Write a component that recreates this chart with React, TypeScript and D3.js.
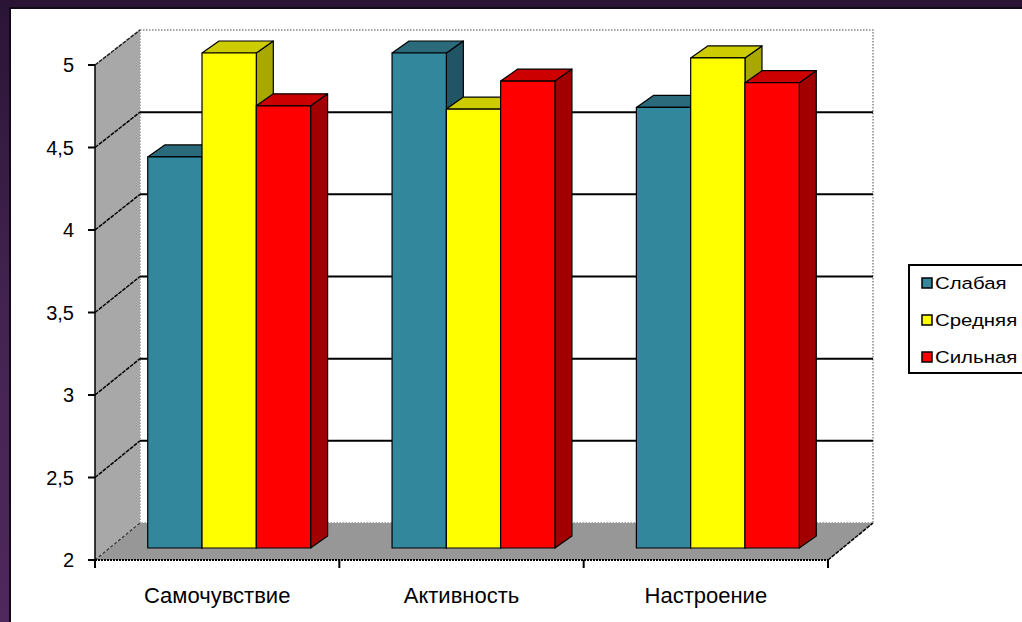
import React from "react";
import * as d3 from "d3";

const categories = ["Самочувствие", "Активность", "Настроение"];
const seriesNames = ["Слабая", "Средняя", "Сильная"];
const slabaya = [4.37, 5.0, 4.67];
const srednyaya = [5.0, 4.66, 4.97];
const silnaya = [4.68, 4.83, 4.82];
const yTicks = [2, 2.5, 3, 3.5, 4, 4.5, 5];

const seriesValues = [slabaya, srednyaya, silnaya];
const palette = [
  { front: "#33879d", top: "#2a6a7b", side: "#215565" },
  { front: "#ffff00", top: "#cccc00", side: "#a8a800" },
  { front: "#ff0000", top: "#cc0000", side: "#a20000" },
];

const W = 1022;
const H = 622;
const FONT = "'Liberation Sans', Arial, sans-serif";

// plot geometry: front plane and back wall of the 3D box
const frontLeft = 95;
const frontRight = 828;
const wallDx = 45;
const barShift = { dx: 12, dy: -12 };
const barDepth = { dx: 17, dy: -12 };

const yFront = d3.scaleLinear().domain([2, 5]).range([560, 65]);
const yBack = d3.scaleLinear().domain([2, 5]).range([523, 30]);

const xCat = d3.scaleBand<string>().domain(categories).range([frontLeft, frontRight]).paddingInner(0).paddingOuter(0);
const xSeries = d3.scaleBand<string>().domain(seriesNames).range([0, xCat.bandwidth()]).paddingInner(0).paddingOuter(0.75);

const pts = (p: [number, number][]) => p.map((q) => q.join(",")).join(" ");

export default function App() {
  const backL = frontLeft + wallDx;
  const backR = frontRight + wallDx;
  const bw = xSeries.bandwidth();

  const bars: JSX.Element[] = [];
  categories.forEach((c, ci) => {
    seriesNames.forEach((s, si) => {
      const v = seriesValues[si][ci];
      const x0 = (xCat(c) as number) + (xSeries(s) as number) + barShift.dx;
      const x1 = x0 + bw;
      const yb = yFront(2) + barShift.dy;
      const yt = yFront(v) + barShift.dy;
      const { dx, dy } = barDepth;
      const col = palette[si];
      bars.push(
        <g key={`${ci}-${si}`} stroke="#000" strokeWidth={1.2} strokeLinejoin="round">
          <polygon points={pts([[x1, yt], [x1 + dx, yt + dy], [x1 + dx, yb + dy], [x1, yb]])} fill={col.side} />
          <polygon points={pts([[x0, yt], [x0 + dx, yt + dy], [x1 + dx, yt + dy], [x1, yt]])} fill={col.top} />
          <rect x={x0} y={yt} width={bw} height={yb - yt} fill={col.front} />
        </g>
      );
    });
  });

  return (
    <svg width={W} height={H} style={{ position: "absolute", left: 0, top: 0 }} fontFamily={FONT}>
      <defs>
        <linearGradient id="bg" x1="0" y1="0" x2="0" y2="1">
          <stop offset="0" stopColor="#2a1436" />
          <stop offset="0.5" stopColor="#442350" />
          <stop offset="1" stopColor="#4f285d" />
        </linearGradient>
      </defs>
      <rect width={W} height={H} fill="url(#bg)" />
      <rect x={10} y={8} width={W} height={H} fill="#fff" stroke="#12081a" strokeWidth={2} />

      {/* back wall */}
      <rect x={backL} y={yBack(5)} width={backR - backL} height={yBack(2) - yBack(5)} fill="#fff"
        stroke="#888" strokeWidth={1.5} strokeDasharray="1.5 1.5" />
      {yTicks.filter((t) => t > 2 && t < 5).map((t) => (
        <line key={t} x1={backL} x2={backR} y1={yBack(t)} y2={yBack(t)} stroke="#000" strokeWidth={2} />
      ))}

      {/* left side wall */}
      <polygon points={pts([[frontLeft, yFront(5)], [backL, yBack(5)], [backL, yBack(2)], [frontLeft, yFront(2)]])}
        fill="#a8a8a8" />
      {yTicks.filter((t) => t > 2 && t < 5).map((t) => (
        <line key={t} x1={frontLeft} y1={yFront(t)} x2={backL} y2={yBack(t)} stroke="#000" strokeWidth={1.5} strokeDasharray="4 1" />
      ))}
      <line x1={frontLeft} y1={yFront(5)} x2={backL} y2={yBack(5)} stroke="#222" strokeWidth={1.5} strokeDasharray="4 1" />

      {/* floor */}
      <polygon points={pts([[frontLeft, yFront(2)], [frontRight, yFront(2)], [backR, yBack(2)], [backL, yBack(2)]])}
        fill="#979797" />
      <line x1={frontLeft} y1={yFront(2)} x2={backL} y2={yBack(2)} stroke="#333" strokeWidth={1.2} strokeDasharray="3 2" />
      <line x1={frontRight} y1={yFront(2)} x2={backR} y2={yBack(2)} stroke="#000" strokeWidth={1.5} strokeDasharray="4 1" />

      {bars}

      {/* value axis */}
      <line x1={frontLeft} x2={frontLeft} y1={yFront(5)} y2={yFront(2)} stroke="#000" strokeWidth={1.5} />
      {yTicks.map((t) => (
        <g key={t}>
          <line x1={frontLeft - 7} x2={frontLeft} y1={yFront(t)} y2={yFront(t)} stroke="#000" strokeWidth={2} />
          <text x={74} y={yFront(t)} dy="0.35em" textAnchor="end" fontSize={20} fill="#000">
            {d3.format(".1~f")(t).replace(".", ",")}
          </text>
        </g>
      ))}

      {/* category axis */}
      <line x1={frontLeft} x2={frontRight} y1={yFront(2)} y2={yFront(2)} stroke="#000" strokeWidth={2} strokeDasharray="2 1" />
      {[...categories.map((c) => xCat(c) as number), frontRight].map((x, i) => (
        <line key={i} x1={x} x2={x} y1={yFront(2)} y2={yFront(2) + 8} stroke="#000" strokeWidth={2} />
      ))}
      {categories.map((c) => (
        <text key={c} x={(xCat(c) as number) + xCat.bandwidth() / 2} y={603} textAnchor="middle" fontSize={22} fill="#000">
          {c}
        </text>
      ))}

      {/* legend */}
      <rect x={909} y={265} width={130} height={108} fill="#fff" stroke="#000" strokeWidth={2} />
      {seriesNames.map((s, i) => (
        <g key={s} transform={`translate(922, ${283 + i * 37})`}>
          <rect x={0} y={-5} width={10} height={10} fill={palette[i].front} stroke="#000" strokeWidth={1.5} />
          <text x={0} y={0} dy="0.36em" fontSize={17} fill="#000" transform="translate(13,0) scale(1.2,1)">{s}</text>
        </g>
      ))}
    </svg>
  );
}
